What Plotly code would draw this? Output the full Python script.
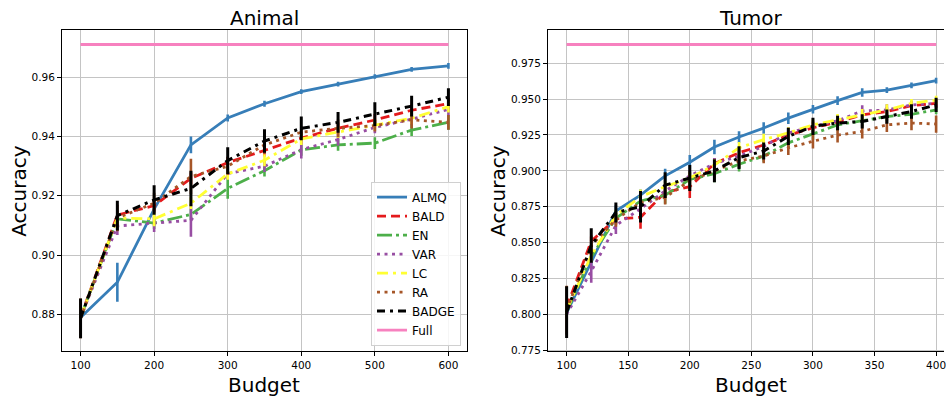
import plotly.graph_objects as go

# ---------------- data ----------------
methods = ["ALMQ", "BALD", "EN", "VAR", "LC", "RA", "BADGE", "Full"]

animal_x = [100, 150, 200, 250, 300, 350, 400, 450, 500, 550, 600]
animal_almq = [0.8789, 0.8908, 0.9155, 0.9372, 0.9463, 0.9511, 0.9552, 0.9577, 0.9603, 0.9627, 0.9639]
animal_almq_err = [0.001, 0.0066, 0.001, 0.0028, 0.0012, 0.001, 0.0008, 0.0008, 0.0008, 0.0008, 0.001]
animal_bald = [0.8789, 0.9135, 0.9167, 0.9259, 0.9312, 0.9353, 0.9395, 0.9428, 0.9456, 0.9489, 0.9511]
animal_bald_err = [0.002, 0.0015, 0.002, 0.002, 0.002, 0.002, 0.002, 0.002, 0.002, 0.002, 0.002]
animal_en = [0.8789, 0.9122, 0.9108, 0.9137, 0.9225, 0.9285, 0.9355, 0.9372, 0.9378, 0.9422, 0.9448]
animal_en_err = [0.002, 0.002, 0.002, 0.002, 0.0035, 0.002, 0.002, 0.002, 0.002, 0.002, 0.0025]
animal_var = [0.8789, 0.9098, 0.9108, 0.9117, 0.9275, 0.9300, 0.9356, 0.9390, 0.9431, 0.9459, 0.9492]
animal_var_err = [0.002, 0.003, 0.003, 0.0055, 0.002, 0.002, 0.003, 0.002, 0.002, 0.002, 0.002]
animal_lc = [0.8789, 0.9125, 0.9122, 0.9175, 0.9274, 0.9320, 0.9392, 0.9415, 0.9440, 0.9462, 0.9501]
animal_lc_err = [0.002, 0.002, 0.0025, 0.002, 0.002, 0.002, 0.002, 0.002, 0.002, 0.002, 0.002]
animal_ra = [0.8786, 0.9125, 0.9175, 0.9265, 0.9300, 0.9372, 0.9415, 0.9428, 0.9437, 0.9457, 0.9448]
animal_ra_err = [0.0067, 0.0045, 0.0035, 0.006, 0.003, 0.003, 0.002, 0.003, 0.002, 0.003, 0.0025]
animal_badge = [0.8786, 0.9133, 0.9186, 0.9225, 0.9319, 0.9385, 0.9428, 0.9448, 0.9476, 0.9503, 0.9533]
animal_badge_err = [0.0067, 0.005, 0.005, 0.006, 0.0045, 0.004, 0.004, 0.0035, 0.004, 0.0035, 0.003]
animal_full = 0.9711

tumor_x = [100, 120, 140, 160, 180, 200, 220, 240, 260, 280, 300, 320, 340, 360, 380, 400]
tumor_almq = [0.801, 0.836, 0.872, 0.883, 0.8965, 0.906, 0.9166, 0.9236, 0.9298, 0.9367, 0.9429, 0.9489, 0.9546, 0.9562, 0.9596, 0.9628]
tumor_almq_err = [0.003, 0.005, 0.004, 0.004, 0.005, 0.005, 0.005, 0.004, 0.004, 0.004, 0.003, 0.003, 0.003, 0.002, 0.002, 0.002]
tumor_bald = [0.805, 0.851, 0.8665, 0.8676, 0.885, 0.889, 0.905, 0.9126, 0.918, 0.9248, 0.930, 0.934, 0.939, 0.9413, 0.9454, 0.947]
tumor_bald_err = [0.004, 0.004, 0.004, 0.008, 0.004, 0.008, 0.004, 0.004, 0.004, 0.004, 0.004, 0.004, 0.003, 0.003, 0.003, 0.003]
tumor_en = [0.802, 0.840, 0.867, 0.879, 0.883, 0.894, 0.898, 0.9046, 0.9103, 0.9195, 0.9257, 0.932, 0.9349, 0.9378, 0.9394, 0.9424]
tumor_en_err = [0.003, 0.004, 0.004, 0.004, 0.006, 0.006, 0.006, 0.005, 0.004, 0.004, 0.004, 0.004, 0.004, 0.003, 0.003, 0.003]
tumor_var = [0.800, 0.830, 0.862, 0.8735, 0.886, 0.8965, 0.905, 0.9103, 0.917, 0.9264, 0.931, 0.9349, 0.9417, 0.9424, 0.9459, 0.947]
tumor_var_err = [0.003, 0.008, 0.006, 0.004, 0.004, 0.004, 0.004, 0.004, 0.004, 0.004, 0.004, 0.004, 0.004, 0.004, 0.003, 0.003]
tumor_lc = [0.803, 0.841, 0.869, 0.882, 0.889, 0.895, 0.904, 0.916, 0.9218, 0.9264, 0.932, 0.9356, 0.939, 0.9424, 0.947, 0.9493]
tumor_lc_err = [0.004, 0.004, 0.004, 0.005, 0.004, 0.004, 0.004, 0.004, 0.004, 0.004, 0.004, 0.004, 0.004, 0.004, 0.003, 0.003]
tumor_ra = [0.803, 0.848, 0.866, 0.878, 0.8816, 0.893, 0.900, 0.9069, 0.9103, 0.916, 0.9206, 0.9248, 0.9275, 0.932, 0.9333, 0.9326]
tumor_ra_err = [0.017, 0.006, 0.005, 0.006, 0.005, 0.006, 0.005, 0.005, 0.005, 0.005, 0.005, 0.005, 0.005, 0.005, 0.005, 0.006]
tumor_badge = [0.8015, 0.848, 0.871, 0.875, 0.890, 0.895, 0.900, 0.9092, 0.9138, 0.924, 0.931, 0.9333, 0.9344, 0.9378, 0.9413, 0.9459]
tumor_badge_err = [0.018, 0.012, 0.007, 0.011, 0.009, 0.009, 0.008, 0.008, 0.006, 0.006, 0.006, 0.005, 0.005, 0.005, 0.005, 0.005]
tumor_full = 0.988

animal_yticks = [0.88, 0.90, 0.92, 0.94, 0.96]
tumor_yticks = [0.775, 0.800, 0.825, 0.850, 0.875, 0.900, 0.925, 0.950, 0.975]
animal_xticks = [100, 200, 300, 400, 500, 600]
tumor_xticks = [100, 150, 200, 250, 300, 350, 400]

# ---------------- styles ----------------
colors = {"ALMQ": "#377eb8", "BALD": "#e41a1c", "EN": "#4daf4a", "VAR": "#984ea3",
          "LC": "#ffff33", "RA": "#a65628", "BADGE": "#000000", "Full": "#f781bf"}
dashes = {"ALMQ": "solid", "BALD": "9px,5px", "EN": "15px,4px,3px,4px", "VAR": "3px,4.5px",
          "LC": "11px,5px,3px,5px", "RA": "3px,4.5px", "BADGE": "8px,5px,3px,5px", "Full": "solid"}
widths = {"ALMQ": 2.8, "BALD": 2.8, "EN": 2.8, "VAR": 2.8, "LC": 2.8, "RA": 2.8, "BADGE": 3.0, "Full": 2.8}

FONT = "DejaVu Sans"
W, H = 946, 398

fig = go.Figure()

animal = {"ALMQ": (animal_almq, animal_almq_err), "BALD": (animal_bald, animal_bald_err),
          "EN": (animal_en, animal_en_err), "VAR": (animal_var, animal_var_err),
          "LC": (animal_lc, animal_lc_err), "RA": (animal_ra, animal_ra_err),
          "BADGE": (animal_badge, animal_badge_err)}
tumor = {"ALMQ": (tumor_almq, tumor_almq_err), "BALD": (tumor_bald, tumor_bald_err),
         "EN": (tumor_en, tumor_en_err), "VAR": (tumor_var, tumor_var_err),
         "LC": (tumor_lc, tumor_lc_err), "RA": (tumor_ra, tumor_ra_err),
         "BADGE": (tumor_badge, tumor_badge_err)}

for panel, (xs, data, full, xa, ya, show) in enumerate([
        (animal_x, animal, animal_full, "x", "y", True),
        (tumor_x, tumor, tumor_full, "x2", "y2", False)]):
    for m in methods:
        if m == "Full":
            ys = [full] * len(xs)
            err = None
        else:
            ys, err = data[m]
        tr = dict(x=xs, y=ys, mode="lines", name=m, legendgroup=m, showlegend=show,
                  xaxis=xa, yaxis=ya,
                  line=dict(color=colors[m], width=widths[m], dash=dashes[m]))
        if err is not None:
            tr["error_y"] = dict(type="data", array=err, visible=True, width=0,
                                 thickness=2.6 if m != "BADGE" else 3.0, color=colors[m])
        fig.add_trace(go.Scatter(**tr))

axis_common = dict(showgrid=True, gridcolor="#c4c4c4", gridwidth=1.2, showline=True,
                   linecolor="black", linewidth=1.2, ticks="outside", ticklen=4,
                   tickwidth=1, tickcolor="black", zeroline=False,
                   tickfont=dict(family=FONT, size=10.5, color="black"))

x1d = [62.3 / W, 467.8 / W]
x2d = [549.3 / W, 1.0]
yd = [(H - 355.7) / H, (H - 30.7) / H]

fig.update_layout(
    width=W, height=H, margin=dict(l=0, r=0, t=0, b=0),
    paper_bgcolor="white", plot_bgcolor="white",
    font=dict(family=FONT, color="black"),
    xaxis=dict(domain=x1d, range=[75, 625], tickvals=animal_xticks, mirror=True, anchor="y", **axis_common),
    yaxis=dict(domain=yd, range=[0.8675, 0.9759], tickvals=animal_yticks, tickformat=".2f",
               mirror=True, anchor="x", **axis_common),
    xaxis2=dict(domain=x2d, range=[85, 406.4], tickvals=tumor_xticks, mirror=True, anchor="y2",
                ticklabeloverflow="allow", **axis_common),
    yaxis2=dict(domain=yd, range=[0.7743, 0.9979], tickvals=tumor_yticks, tickformat=".3f",
                mirror=False, anchor="x2", **axis_common),
    legend=dict(x=462 / W, xanchor="right", y=(H - 350) / H, yanchor="bottom",
                bgcolor="rgba(255,255,255,0.85)", bordercolor="#d0d0d0", borderwidth=1,
                font=dict(family=FONT, size=12, color="black"), tracegroupgap=0),
    showlegend=True,
)

ann = [
    dict(text="Animal", x=(x1d[0] + x1d[1]) / 2, y=(H - 18) / H, font_size=20),
    dict(text="Tumor", x=(549.3 + 956.5) / 2 / W, y=(H - 18) / H, font_size=20),
    dict(text="Budget", x=(x1d[0] + x1d[1]) / 2, y=(H - 390) / H, font_size=20),
    dict(text="Budget", x=(549.3 + 956.5) / 2 / W, y=(H - 390) / H, font_size=20),
    dict(text="Accuracy", x=19 / W, y=(yd[0] + yd[1]) / 2, font_size=20, textangle=-90),
    dict(text="Accuracy", x=499 / W, y=(yd[0] + yd[1]) / 2, font_size=20, textangle=-90),
]
for a in ann:
    fs = a.pop("font_size")
    fig.add_annotation(xref="paper", yref="paper", xanchor="center", yanchor="middle",
                       showarrow=False, font=dict(family=FONT, size=fs, color="black"), **a)

fig.write_html("out.html")
